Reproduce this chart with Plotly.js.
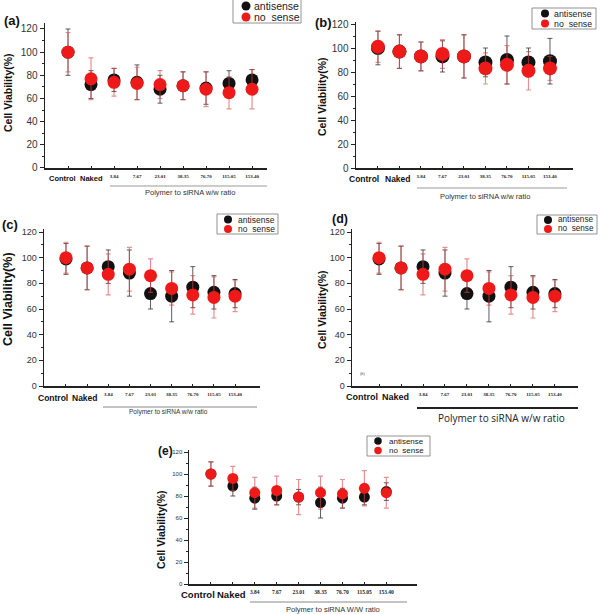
<!DOCTYPE html>
<html>
<head>
<meta charset="utf-8">
<script src="https://cdn.plot.ly/plotly-3.0.1.min.js"></script>
<style>html,body{margin:0;padding:0;background:#fff;}#chart{width:600px;height:614px;}</style>
</head>
<body>
<div id="chart"></div>
<script>
// ---------- DATA ----------
const categories = ['Control', 'Naked', '3.84', '7.67', '23.01', '38.35', '76.70', '115.05', '153.40'];
const seriesNames = ['antisense', 'no\u00a0\u00a0sense'];
const panelLabels = ['(a)', '(b)', '(c)', '(d)', '(e)'];
const yTitle = 'Cell Viability(%)';
const xTitles = ['Polymer to siRNA w/w ratio', 'Polymer to siRNA w/w ratio', 'Polymer to siRNA w/w ratio', 'Polymer to siRNA w/w ratio', 'Polymer to siRNA W/W ratio'];
const yTickVals = [0, 20, 40, 60, 80, 100, 120];

// (a)
const a_anti     = [100, 72, 76, 74, 68, 71, 69, 73, 76];
const a_anti_err = [20, 12, 10, 15, 12, 12, 14, 11, 9];
const a_nos      = [100, 77, 74, 73, 72, 71, 68, 65, 68];
const a_nos_err  = [17, 18, 12, 14, 12, 12, 15, 14, 17];
// (b)
const b_anti     = [100, 97, 93, 93, 93, 88, 90, 88, 89];
const b_anti_err = [14, 14, 12, 13, 18, 12, 20, 12, 19];
const b_nos      = [101, 97, 93, 95, 93, 83, 86, 81, 83];
const b_nos_err  = [13, 14, 12, 12, 18, 13, 16, 16, 10];
// (c)
const c_anti     = [99, 92, 93, 88, 72, 70, 77, 73, 72];
const c_anti_err = [12, 17, 13, 18, 12, 20, 16, 13, 11];
const c_nos      = [100, 92, 87, 91, 86, 76, 71, 69, 70];
const c_nos_err  = [12, 17, 16, 17, 13, 13, 15, 16, 12];
// (d)
const d_anti     = [99, 92, 93, 88, 72, 70, 77, 73, 72];
const d_anti_err = [12, 17, 13, 18, 12, 20, 16, 13, 11];
const d_nos      = [100, 92, 87, 91, 86, 76, 71, 69, 70];
const d_nos_err  = [12, 17, 16, 17, 13, 13, 15, 16, 12];
// (e)
const e_anti     = [100, 89, 78, 80, 79, 74, 78, 79, 84];
const e_anti_err = [11, 9, 10, 8, 7, 14, 9, 7, 8];
const e_nos      = [100, 96, 83, 85, 79, 83, 82, 87, 83];
const e_nos_err  = [11, 11, 14, 13, 16, 15, 13, 16, 14];

// ---------- LAYOUT SPECS (pixels) ----------
const W = 600, H = 614;
const PX = p => p / W;
const PY = p => 1 - p / H;

const panels = [
  {anti: a_anti, antiErr: a_anti_err, nos: a_nos, nosErr: a_nos_err,
   x0: 45, x1: 267, y0: 168, y120: 29, ymax: 125, xr: [-1, 8.65], ms: 13,
   ytf: 10, numF: 5, cn: [62, 91, 178, 7.5],
   label: [12, 20, 13], ytitle: [8, 93, 10.5],
   xt: [190, 193, 7.5, '#333'], ul: [110, 267, 186, '#999', 1],
   leg: {bx0: 233, bx1: 301, by0: -1, by1: 23, mx: 246, my: [6, 17], tx: 253, f: 10.5, ms: 9}},
  {anti: b_anti, antiErr: b_anti_err, nos: b_nos, nosErr: b_nos_err,
   x0: 356, x1: 573, y0: 168, y120: 24, ymax: 122, xr: [-1.02, 9.07], ms: 14,
   ytf: 10, numF: 5, cn: [364, 398, 179, 8.5],
   label: [323, 22, 13], ytitle: [322, 97, 10.5],
   xt: [485, 197, 7.5, '#333'], ul: [417, 567, 188, '#999', 1],
   leg: {bx0: 532, bx1: 596, by0: 8, by1: 29, mx: 545, my: [13.5, 23.5], tx: 553, f: 8.8, ms: 8}},
  {anti: c_anti, antiErr: c_anti_err, nos: c_nos, nosErr: c_nos_err,
   x0: 44, x1: 260, y0: 386, y120: 232, ymax: 122, xr: [-1.04, 9.18], ms: 13,
   ytf: 9, numF: 5, cn: [53, 85, 398, 8.5],
   label: [10, 225, 13], ytitle: [8, 299, 12.5],
   xt: [168, 412, 6.5, '#333'], ul: [103, 257, 407, '#888', 1],
   leg: {bx0: 217, bx1: 278, by0: 214, by1: 234, mx: 228, my: [219.5, 229], tx: 237, f: 8.5, ms: 8}},
  {anti: d_anti, antiErr: d_anti_err, nos: d_nos, nosErr: d_nos_err,
   x0: 352, x1: 578, y0: 386, y120: 232, ymax: 122, xr: [-1.23, 9.05], ms: 13,
   ytf: 9, numF: 5, cn: [362, 395, 397, 9],
   label: [340, 219, 12.5], ytitle: [322, 310, 10.5],
   xt: [501, 418, 10, '#222'], ul: [417, 578, 408, '#222', 2],
   leg: {bx0: 537, bx1: 597, by0: 215, by1: 234, mx: 548, my: [220, 229], tx: 557, f: 8.2, ms: 8}},
  {anti: e_anti, antiErr: e_anti_err, nos: e_nos, nosErr: e_nos_err,
   x0: 189, x1: 417, y0: 584, y120: 452, ymax: 122, xr: [-1, 9.4], ms: 11,
   ytf: 6, numF: 5.5, cn: [198, 231, 594, 9.5],
   label: [165, 451, 12], ytitle: [161, 530, 10.5],
   xt: [333, 609, 7.5, '#333'], ul: [250, 407, 602, '#888', 1],
   leg: {bx0: 367, bx1: 430, by0: 436, by1: 456, mx: 378, my: [441, 450.5], tx: 388, f: 8, ms: 7.5}}
];

const RED = '#ee1a1a';
const BLK = '#111111';

const traces = [];
const layout = {
  width: W, height: H, autosize: false,
  margin: {l: 0, r: 0, t: 0, b: 0},
  paper_bgcolor: '#fff', plot_bgcolor: 'rgba(0,0,0,0)',
  showlegend: false,
  font: {family: 'Liberation Sans, Arial, sans-serif', color: '#222'},
  annotations: [], shapes: []
};

panels.forEach((p, i) => {
  const n = i === 0 ? '' : String(i + 1);
  const xa = 'x' + n, ya = 'y' + n;
  const pxPerUnit = (p.y0 - p.y120) / 120;
  const yTopPx = p.y0 - p.ymax * pxPerUnit;
  // Control / Naked are drawn as separate bold labels below (they are offset left in the original)
  const tickText = categories.map((c, k) => k < 2 ? '' : '<b>' + c + '</b>');

  layout['xaxis' + n] = {
    domain: [PX(p.x0), PX(p.x1)], anchor: ya, type: 'category',
    range: p.xr, fixedrange: true,
    showline: true, linecolor: '#222', linewidth: 1.5,
    showgrid: false, zeroline: false,
    ticks: 'inside', ticklen: 2, tickcolor: '#222',
    tickmode: 'array', tickvals: categories, ticktext: tickText,
    tickfont: {size: p.numF, color: '#222', family: 'Liberation Serif, serif'},
    tickangle: 0, ticklabelstandoff: 2
  };
  layout['yaxis' + n] = {
    domain: [PY(p.y0), PY(yTopPx)], anchor: xa,
    range: [0, p.ymax], fixedrange: true,
    showline: true, linecolor: '#222', linewidth: 1.5,
    showgrid: false, zeroline: false,
    ticks: 'outside', ticklen: 4, tickcolor: '#222',
    tickmode: 'array', tickvals: yTickVals,
    minor: {tickmode: 'linear', tick0: 0, dtick: 10, ticks: 'outside', ticklen: 2, tickcolor: '#222'},
    tickfont: {size: p.ytf, color: '#333'}
  };

  traces.push({
    type: 'scatter', mode: 'markers', name: seriesNames[0],
    x: categories, y: p.anti, xaxis: xa, yaxis: ya,
    marker: {color: BLK, size: p.ms},
    error_y: {type: 'data', array: p.antiErr, visible: true, color: 'rgba(40,40,40,0.75)', thickness: 1, width: 2.5},
    cliponaxis: false
  });
  traces.push({
    type: 'scatter', mode: 'markers', name: seriesNames[1],
    x: categories, y: p.nos, xaxis: xa, yaxis: ya,
    marker: {color: RED, size: p.ms},
    error_y: {type: 'data', array: p.nosErr, visible: true, color: 'rgba(215,70,70,0.6)', thickness: 1.2, width: 2.5},
    cliponaxis: false
  });

  // Control / Naked labels
  [0, 1].forEach(k => {
    layout.annotations.push({xref: 'paper', yref: 'paper', x: PX(p.cn[k]), y: PY(p.cn[2]),
      xanchor: 'center', yanchor: 'middle', showarrow: false,
      text: '<b>' + categories[k] + '</b>', font: {size: p.cn[3], color: '#111'}});
  });
  // panel label
  layout.annotations.push({xref: 'paper', yref: 'paper', x: PX(p.label[0]), y: PY(p.label[1]),
    xanchor: 'center', yanchor: 'middle', showarrow: false,
    text: '<b>' + panelLabels[i] + '</b>', font: {size: p.label[2], color: '#111'}});
  // y title
  layout.annotations.push({xref: 'paper', yref: 'paper', x: PX(p.ytitle[0]), y: PY(p.ytitle[1]),
    xanchor: 'center', yanchor: 'middle', showarrow: false, textangle: -90,
    text: '<b>' + yTitle + '</b>', font: {size: p.ytitle[2], color: '#111'}});
  // x title (group label)
  layout.annotations.push({xref: 'paper', yref: 'paper', x: PX(p.xt[0]), y: PY(p.xt[1]),
    xanchor: 'center', yanchor: 'middle', showarrow: false,
    text: xTitles[i], font: {size: p.xt[2], color: p.xt[3], family: i === 3 ? 'Open Sans, sans-serif' : 'Liberation Sans, Arial, sans-serif'}});
  // underline of the group
  layout.shapes.push({type: 'line', xref: 'paper', yref: 'paper',
    x0: PX(p.ul[0]), x1: PX(p.ul[1]), y0: PY(p.ul[2]), y1: PY(p.ul[2]),
    line: {color: p.ul[3], width: p.ul[4]}});

  // legend box
  const L = p.leg;
  layout.shapes.push({type: 'rect', xref: 'paper', yref: 'paper',
    x0: PX(L.bx0), x1: PX(L.bx1), y0: PY(L.by1), y1: PY(L.by0),
    line: {color: '#777', width: 0.8}, fillcolor: '#fff', layer: 'above'});
  [BLK, RED].forEach((col, k) => {
    const r = L.ms / 2;
    layout.shapes.push({type: 'circle', xref: 'paper', yref: 'paper', layer: 'above',
      x0: PX(L.mx - r), x1: PX(L.mx + r), y0: PY(L.my[k] + r), y1: PY(L.my[k] - r),
      fillcolor: col, line: {width: 0}});
    layout.annotations.push({xref: 'paper', yref: 'paper', x: PX(L.tx), y: PY(L.my[k]),
      xanchor: 'left', yanchor: 'middle', showarrow: false, borderpad: 0,
      text: seriesNames[k], font: {size: L.f, color: '#222'}});
  });
});

// tiny stray label in panel (d) and faint crop border near (b)
layout.annotations.push({xref: 'paper', yref: 'paper', x: PX(363), y: PY(373),
  xanchor: 'center', yanchor: 'middle', showarrow: false, text: '(b)', font: {size: 4, color: '#555'}});
layout.shapes.push({type: 'line', xref: 'paper', yref: 'paper', x0: PX(301), x1: PX(301), y0: PY(0), y1: PY(16),
  line: {color: '#ccc', width: 1}});

Plotly.newPlot('chart', traces, layout, {staticPlot: true, displayModeBar: false});
</script>
</body>
</html>
